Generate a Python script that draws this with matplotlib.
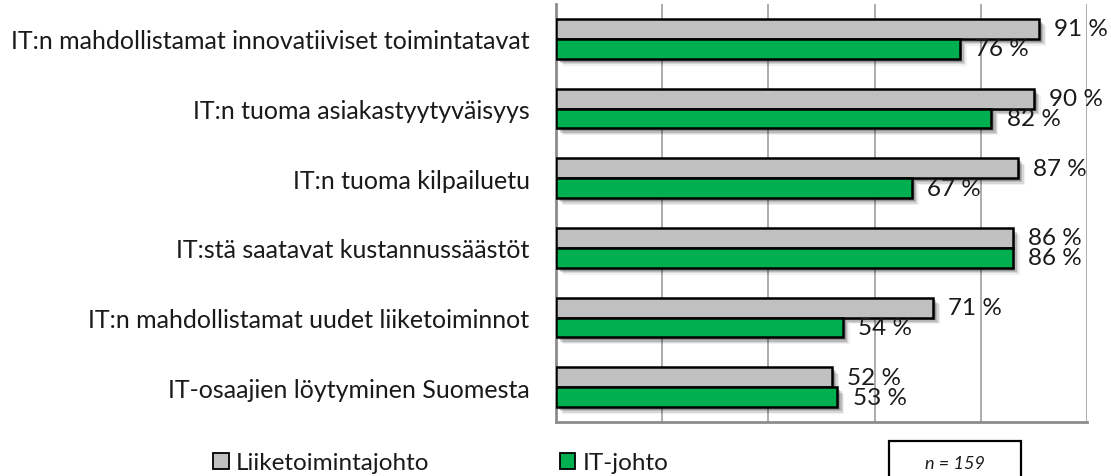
import matplotlib
matplotlib.use("Agg")
import matplotlib.pyplot as plt
import matplotlib.patheffects as pe
from matplotlib.patches import Patch, Rectangle
import numpy as np

plt.rcParams['font.family'] = ['Lato', 'DejaVu Sans']

categories = [
    "IT:n mahdollistamat innovatiiviset toimintatavat",
    "IT:n tuoma asiakastyytyväisyys",
    "IT:n tuoma kilpailuetu",
    "IT:stä saatavat kustannussäästöt",
    "IT:n mahdollistamat uudet liiketoiminnot",
    "IT-osaajien löytyminen Suomesta",
]
liiketoiminta = [91, 90, 87, 86, 71, 52]
itjohto = [76, 82, 67, 86, 54, 53]
series_names = ["Liiketoimintajohto", "IT-johto"]
colors = ["#C0C0C0", "#00B050"]
note = "n = 159"

W, H = 1111, 477
fig = plt.figure(figsize=(W / 100, H / 100), dpi=100)
ax = fig.add_axes([556 / W, 1 - 423 / H, (1087 - 556) / W, (423 - 5) / H])

y = np.arange(len(categories))
bh = 0.287
shadow = [pe.SimplePatchShadow(offset=(5, -5), shadow_rgbFace='#000000', alpha=0.06),
          pe.SimplePatchShadow(offset=(4, -4), shadow_rgbFace='#000000', alpha=0.10),
          pe.SimplePatchShadow(offset=(3, -3), shadow_rgbFace='#000000', alpha=0.14),
          pe.SimplePatchShadow(offset=(2, -2), shadow_rgbFace='#000000', alpha=0.18),
          pe.Normal()]
b1 = ax.barh(y - bh / 2, liiketoiminta, height=bh, color=colors[0],
             edgecolor='black', linewidth=1.8, zorder=3)
b2 = ax.barh(y + bh / 2, itjohto, height=bh, color=colors[1],
             edgecolor='black', linewidth=1.8, zorder=3)
for b in list(b1) + list(b2):
    b.set_path_effects(shadow)

fs = 17.5
txtcol = '#1a1a1a'
for yi, v in zip(y - bh / 2, liiketoiminta):
    ax.annotate(f"{v} %", (v, yi), xytext=(11, 0), textcoords='offset points',
                va='center', ha='left', fontsize=fs, color=txtcol, zorder=5,
                annotation_clip=False)
for yi, v in zip(y + bh / 2, itjohto):
    ax.annotate(f"{v} %", (v, yi), xytext=(11, 0), textcoords='offset points',
                va='center', ha='left', fontsize=fs, color=txtcol, zorder=5,
                annotation_clip=False)

ax.set_xlim(0, 100)
ax.set_ylim(5.5, -0.5)
ax.set_yticks(y)
ax.set_yticklabels(categories, fontsize=18, color=txtcol)
ax.tick_params(axis='y', length=0, pad=19)
ax.set_xticks([20, 40, 60, 80, 100])
ax.set_xticklabels([])
ax.tick_params(axis='x', length=0)
ax.grid(axis='x', color='#A6A6A6', linewidth=1.3, zorder=0)
ax.set_axisbelow(True)
for s in ['top', 'right']:
    ax.spines[s].set_visible(False)
for s in ['left', 'bottom']:
    ax.spines[s].set_color('#8C8C8C')
    ax.spines[s].set_linewidth(2)

handles = [Patch(facecolor=c, edgecolor='black', linewidth=1.3) for c in colors]
leg = fig.legend(handles, series_names, loc='center left',
                 bbox_to_anchor=(213 / W, 1 - 464 / H), ncol=2, frameon=False,
                 fontsize=fs, handlelength=0.65, handleheight=0.65,
                 handletextpad=0.3, columnspacing=5.35, borderpad=0,
                 borderaxespad=0, labelcolor=txtcol)

fig.patches.append(Rectangle((889 / W, 1 - 490 / H), (1021 - 889) / W, (490 - 442) / H,
                             transform=fig.transFigure, facecolor='white',
                             edgecolor='black', linewidth=1.6))
fig.text(955 / W, 1 - 464 / H, note, ha='center', va='center', fontsize=13,
         style='italic', color=txtcol)

fig.savefig("out.png", dpi=100)
